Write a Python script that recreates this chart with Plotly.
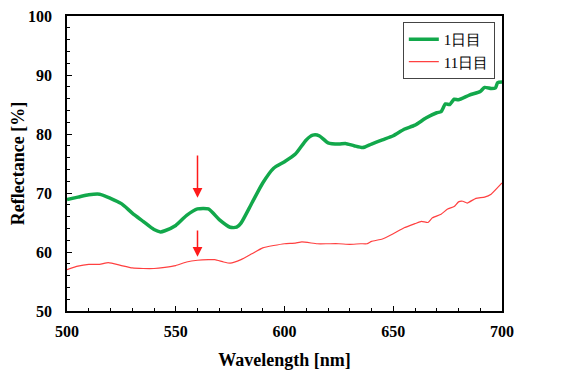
import plotly.graph_objects as go

wl_day1 = [500, 505, 510, 515, 520, 525, 530, 535, 540, 543, 545, 550, 555, 560, 565, 570, 575, 578, 580,
           585, 590, 595, 600, 605, 610, 613, 616, 620, 625, 628, 632, 636, 640, 645, 650, 655, 660, 665,
           670, 672, 674, 676, 678, 680, 685, 690, 692, 695, 697, 698, 700]
refl_day1 = [68.9, 69.3, 69.7, 69.8, 69.1, 68.2, 66.6, 65.2, 63.8, 63.4, 63.6, 64.5, 66.2, 67.3, 67.3, 65.5,
             64.2, 64.2, 64.9, 68.3, 71.7, 74.2, 75.3, 76.6, 79.0, 79.8, 79.7, 78.5, 78.3, 78.4, 78.0, 77.7,
             78.3, 79.0, 79.7, 80.8, 81.5, 82.7, 83.6, 83.8, 85.1, 85.0, 85.9, 85.8, 86.6, 87.2, 87.9, 87.7,
             87.8, 88.7, 88.8]

wl_day11 = [500, 505, 510, 515, 519, 525, 530, 535, 540, 545, 550, 555, 560, 565, 568, 572, 575, 580, 585,
            590, 595, 600, 605, 608, 615, 620, 625, 630, 635, 638, 640, 645, 650, 655, 660, 663, 666, 668,
            672, 675, 678, 680, 682, 684, 688, 692, 695, 700]
refl_day11 = [57.0, 57.6, 57.9, 57.9, 58.2, 57.7, 57.3, 57.2, 57.2, 57.4, 57.7, 58.3, 58.6, 58.7, 58.7, 58.3,
              58.1, 58.7, 59.7, 60.7, 61.1, 61.4, 61.5, 61.7, 61.4, 61.4, 61.4, 61.3, 61.4, 61.4, 61.8, 62.2,
              63.1, 64.1, 64.8, 65.2, 65.0, 65.8, 66.4, 67.3, 67.7, 68.5, 68.6, 68.3, 69.1, 69.3, 69.8, 71.7]

series_names = ["1日目", "11日目"]
x_ticks = [500, 550, 600, 650, 700]
y_ticks = [50, 60, 70, 80, 90, 100]
arrow_x = [560, 560]
arrow_head_y = [69.2, 59.2]
arrow_tail_y = [76.6, 63.9]

serif = "Liberation Serif, Times New Roman, serif"

fig = go.Figure()
fig.add_trace(go.Scatter(x=wl_day1, y=refl_day1, mode="lines", name=series_names[0],
                         line=dict(color="#12A84B", width=3.5, shape="spline", smoothing=0.6)))
fig.add_trace(go.Scatter(x=wl_day11, y=refl_day11, mode="lines", name=series_names[1],
                         line=dict(color="#FF4040", width=1.2, shape="spline", smoothing=0.4)))

for ax, hy, ty in zip(arrow_x, arrow_head_y, arrow_tail_y):
    fig.add_annotation(x=ax, y=hy, ax=ax, ay=ty, xref="x", yref="y", axref="x", ayref="y",
                       showarrow=True, arrowhead=2, arrowsize=1.3, arrowwidth=1.5, arrowcolor="#FF1A1A", text="")

fig.update_layout(
    width=563, height=370,
    margin=dict(l=59, r=69, t=8, b=67, autoexpand=False),
    paper_bgcolor="white", plot_bgcolor="white",
    font=dict(family=serif, color="black"),
    legend=dict(x=0.772, y=0.98, xanchor="left", yanchor="top",
                bgcolor="white", bordercolor="#444444", borderwidth=1,
                font=dict(family=serif, size=15, color="black"),
                tracegroupgap=0, itemwidth=30),
    showlegend=True,
)
fig.update_xaxes(range=[500, 700], tickvals=x_ticks, ticktext=[f"<b>{v}</b>" for v in x_ticks],
                 automargin=False, ticklabeloverflow="allow",
                 showline=True, linecolor="black", linewidth=1.5, mirror=True,
                 ticks="inside", ticklen=5, tickcolor="black", ticklabelstandoff=5,
                 minor=dict(dtick=10, ticks="inside", ticklen=3, tickcolor="black"),
                 showgrid=False, zeroline=False,
                 tickfont=dict(family=serif, size=16, color="black"),
                 title=dict(text="<b>Wavelength [nm]</b>", font=dict(family=serif, size=18), standoff=14))
fig.update_yaxes(range=[50, 100], tickvals=y_ticks, ticktext=[f"<b>{v}</b>" for v in y_ticks],
                 automargin=False, ticklabeloverflow="allow",
                 showline=True, linecolor="black", linewidth=1.5, mirror=True,
                 ticks="inside", ticklen=5, tickcolor="black", ticklabelstandoff=10,
                 minor=dict(dtick=2, ticks="inside", ticklen=3, tickcolor="black"),
                 showgrid=False, zeroline=False,
                 tickfont=dict(family=serif, size=16, color="black"),
                 title=dict(text="<b>Reflectance [%]</b>", font=dict(family=serif, size=18), standoff=8))

fig.write_html("out.html")
